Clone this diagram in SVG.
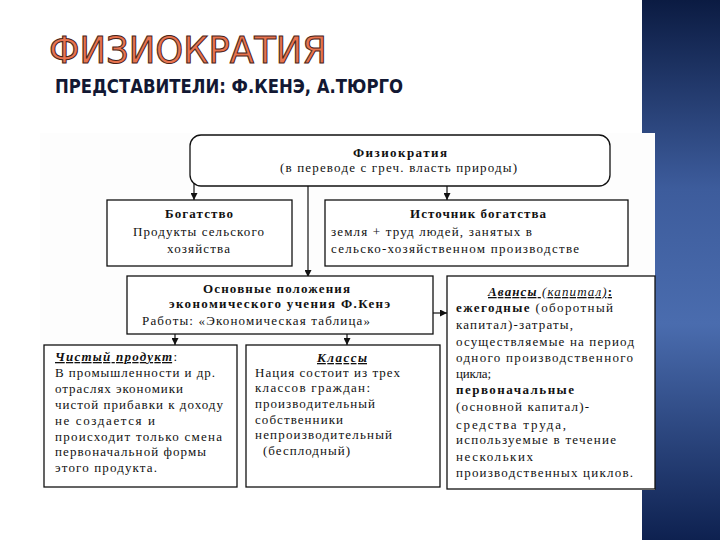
<svg xmlns="http://www.w3.org/2000/svg" width="720" height="540" viewBox="0 0 720 540">
<style>
.t{font-family:"Liberation Serif","Times New Roman",serif;font-size:13px;fill:#111}
.b{font-weight:bold}
.bi{font-weight:bold;font-style:italic;text-decoration:underline}
.i{font-style:italic;text-decoration:underline}
.box{fill:#fff;stroke:#111;stroke-width:1.3}
.ln{stroke:#111;stroke-width:1.2;fill:none}
</style>
<defs>
<linearGradient id="blue" x1="0" y1="0" x2="0" y2="1">
<stop offset="0" stop-color="#0b1b42"/>
<stop offset="0.35" stop-color="#3d5c9c"/>
<stop offset="0.6" stop-color="#4a6cae"/>
<stop offset="1" stop-color="#0e2150"/>
</linearGradient>
<marker id="ah" viewBox="0 0 10 10" refX="10" refY="5" markerWidth="7" markerHeight="7" orient="auto" markerUnits="userSpaceOnUse">
<path d="M0,0 L10,5 L0,10 z" fill="#111"/>
</marker>
</defs>
<rect x="0" y="0" width="720" height="540" fill="#fff"/>
<rect x="642" y="0" width="78" height="540" fill="url(#blue)"/>
<rect x="40" y="133" width="615" height="357" fill="#fdfdfd"/>

<text x="49" y="63" font-family="DejaVu Sans Condensed,DejaVu Sans,sans-serif" font-size="38" fill="#e8734f" stroke="#4a2418" stroke-width="1" textLength="278" lengthAdjust="spacingAndGlyphs">ФИЗИОКРАТИЯ</text>
<text x="55" y="93" font-family="DejaVu Sans Condensed,DejaVu Sans,sans-serif" font-size="20" font-weight="bold" fill="#121833" textLength="348" lengthAdjust="spacingAndGlyphs">ПРЕДСТАВИТЕЛИ: Ф.КЕНЭ, А.ТЮРГО</text>

<g id="connectors">
<line class="ln" x1="194" y1="180" x2="194" y2="200" marker-end="url(#ah)"/>
<line class="ln" x1="447" y1="186" x2="447" y2="200" marker-end="url(#ah)"/>
<line class="ln" x1="308" y1="186" x2="308" y2="277" marker-end="url(#ah)"/>
<line class="ln" x1="433" y1="313" x2="447" y2="313" marker-end="url(#ah)"/>
<line class="ln" x1="175" y1="334" x2="175" y2="345" marker-end="url(#ah)"/>
<line class="ln" x1="347" y1="334" x2="347" y2="345" marker-end="url(#ah)"/>
</g>

<g id="n-physio">
<rect class="box" x="190" y="135" width="420" height="51" rx="11"/>
<text class="t b" x="353" y="157" textLength="94" lengthAdjust="spacing">Физиократия</text>
<text class="t" x="280" y="172" textLength="237" lengthAdjust="spacing">(в переводе с греч. власть природы)</text>
</g>

<g id="n-wealth">
<rect class="box" x="107" y="200" width="185" height="66"/>
<text class="t b" x="165" y="218" textLength="68" lengthAdjust="spacing">Богатство</text>
<text class="t" x="133" y="236" textLength="131" lengthAdjust="spacing">Продукты сельского</text>
<text class="t" x="167" y="253" textLength="63" lengthAdjust="spacing">хозяйства</text>
</g>

<g id="n-source">
<rect class="box" x="325" y="200" width="303" height="66"/>
<text class="t b" x="410" y="218" textLength="136" lengthAdjust="spacing">Источник богатства</text>
<text class="t" x="331" y="236" textLength="201" lengthAdjust="spacing">земля + труд людей, занятых в</text>
<text class="t" x="331" y="253" textLength="248" lengthAdjust="spacing">сельско-хозяйственном производстве</text>
</g>

<g id="n-main">
<rect class="box" x="127" y="276" width="306" height="58"/>
<text class="t b" x="203" y="293" textLength="147" lengthAdjust="spacing">Основные положения</text>
<text class="t b" x="169" y="308" textLength="221" lengthAdjust="spacing">экономического учения Ф.Кенэ</text>
<text class="t" x="142" y="325" textLength="228" lengthAdjust="spacing">Работы: «Экономическая таблица»</text>
</g>

<g id="n-advances">
<rect class="box" x="447" y="276" width="208" height="213"/>
<text class="t" x="488" y="296" textLength="124" lengthAdjust="spacing"><tspan class="bi">Авансы</tspan><tspan class="i"> (капитал)</tspan><tspan class="b" text-decoration="underline">:</tspan></text>
<text class="t" x="456" y="312" textLength="157" lengthAdjust="spacing"><tspan class="b">ежегодные</tspan> (оборотный</text>
<text class="t" x="456" y="329" textLength="117" lengthAdjust="spacing">капитал)-затраты,</text>
<text class="t" x="456" y="346" textLength="178" lengthAdjust="spacing">осуществляемые на период</text>
<text class="t" x="456" y="362" textLength="177" lengthAdjust="spacing">одного производственного</text>
<text class="t" x="456" y="378" textLength="35" lengthAdjust="spacing">цикла;</text>
<text class="t b" x="456" y="394" textLength="118" lengthAdjust="spacing">первоначальные</text>
<text class="t" x="456" y="411" textLength="133" lengthAdjust="spacing">(основной капитал)-</text>
<text class="t" x="456" y="429" textLength="110" lengthAdjust="spacing">средства труда,</text>
<text class="t" x="456" y="444" textLength="160" lengthAdjust="spacing">используемые в течение</text>
<text class="t" x="456" y="461" textLength="77" lengthAdjust="spacing">нескольких</text>
<text class="t" x="456" y="477" textLength="177" lengthAdjust="spacing">производственных циклов.</text>
</g>

<g id="n-net">
<rect class="box" x="44" y="345" width="193" height="142"/>
<text class="t" x="55" y="361" textLength="122" lengthAdjust="spacing"><tspan class="bi">Чистый продукт</tspan>:</text>
<text class="t" x="55" y="377" textLength="160" lengthAdjust="spacing">В промышленности и др.</text>
<text class="t" x="55" y="393" textLength="128" lengthAdjust="spacing">отраслях экономики</text>
<text class="t" x="55" y="409" textLength="168" lengthAdjust="spacing">чистой прибавки к доходу</text>
<text class="t" x="55" y="425" textLength="100" lengthAdjust="spacing">не создается и</text>
<text class="t" x="55" y="441" textLength="167" lengthAdjust="spacing">происходит только смена</text>
<text class="t" x="55" y="456" textLength="151" lengthAdjust="spacing">первоначальной формы</text>
<text class="t" x="55" y="472" textLength="102" lengthAdjust="spacing">этого продукта.</text>
</g>

<g id="n-classes">
<rect class="box" x="246" y="345" width="194" height="142"/>
<text class="t bi" x="317" y="362" textLength="50" lengthAdjust="spacing">Классы</text>
<text class="t" x="255" y="377" textLength="145" lengthAdjust="spacing">Нация состоит из трех</text>
<text class="t" x="255" y="392" textLength="115" lengthAdjust="spacing">классов граждан:</text>
<text class="t" x="255" y="408" textLength="120" lengthAdjust="spacing">производительный</text>
<text class="t" x="255" y="424" textLength="88" lengthAdjust="spacing">собственники</text>
<text class="t" x="255" y="439" textLength="137" lengthAdjust="spacing">непроизводительный</text>
<text class="t" x="263" y="455" textLength="87" lengthAdjust="spacing">(бесплодный)</text>
</g>
</svg>
